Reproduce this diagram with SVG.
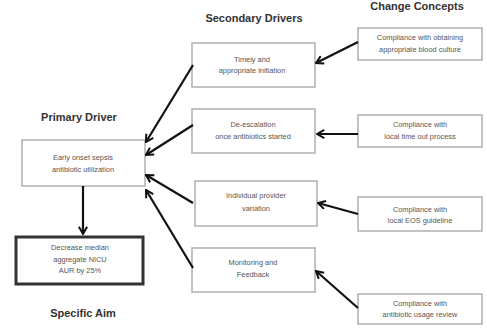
<svg xmlns="http://www.w3.org/2000/svg" width="487" height="328" viewBox="0 0 487 328">
<style>
.box{fill:#fff;stroke:#b4b4b4;stroke-width:1.6}
.aim{fill:#fff;stroke:#333;stroke-width:3}
.t{font-family:"Liberation Sans",Arial,sans-serif;font-size:7.4px;fill:#555;text-anchor:middle}
.h{font-family:"Liberation Sans",Arial,sans-serif;font-size:11px;font-weight:bold;fill:#333;text-anchor:middle}
.c{stroke:#111;stroke-width:2.2;fill:none;marker-end:url(#ah)}
</style>
<defs>
<marker id="ah" markerWidth="10" markerHeight="10" viewBox="-10 -5 11 10" refX="0" refY="0" orient="auto" markerUnits="userSpaceOnUse">
<polyline points="-8,-4.5 0,0 -8,4.5" fill="none" stroke="#111" stroke-width="2.2"/>
</marker>
</defs>
<rect width="487" height="328" fill="#fff"/>
<text class="h" x="254" y="22">Secondary Drivers</text>
<text class="h" x="417" y="10">Change Concepts</text>
<text class="h" x="79" y="121">Primary Driver</text>
<text class="h" x="83" y="317">Specific Aim</text>
<g id="primary">
<rect class="box" x="22" y="140" width="123" height="46"/>
<text class="t" x="83" y="160">Early onset sepsis</text>
<text class="t" x="83" y="172">antibiotic utilization</text>
</g>
<g id="aim">
<rect class="aim" x="16" y="237" width="127" height="47"/>
<text class="t" x="80" y="250">Decrease median</text>
<text class="t" x="80" y="262">aggregate NICU</text>
<text class="t" x="80" y="273">AUR by 25%</text>
</g>
<g id="sd1">
<rect class="box" x="192" y="43" width="123" height="44"/>
<text class="t" x="252" y="62">Timely and</text>
<text class="t" x="252" y="73">appropriate initiation</text>
</g>
<g id="sd2">
<rect class="box" x="192" y="109" width="123" height="44"/>
<text class="t" x="253" y="127">De-escalation</text>
<text class="t" x="253" y="139">once antibiotics started</text>
</g>
<g id="sd3">
<rect class="box" x="195" y="181" width="122" height="45"/>
<text class="t" x="256" y="198">Individual provider</text>
<text class="t" x="256" y="211">variation</text>
</g>
<g id="sd4">
<rect class="box" x="192" y="248" width="123" height="44"/>
<text class="t" x="253" y="265">Monitoring and</text>
<text class="t" x="253" y="277">Feedback</text>
</g>
<g id="cc1">
<rect class="box" x="358" y="28" width="124" height="32"/>
<text class="t" x="420" y="40">Compliance with obtaining</text>
<text class="t" x="420" y="52">appropriate blood culture</text>
</g>
<g id="cc2">
<rect class="box" x="358" y="115" width="124" height="32"/>
<text class="t" x="420" y="127">Compliance with</text>
<text class="t" x="420" y="139">local time out process</text>
</g>
<g id="cc3">
<rect class="box" x="358" y="197" width="124" height="34"/>
<text class="t" x="420" y="212">Compliance with</text>
<text class="t" x="420" y="223">local EOS guideline</text>
</g>
<g id="cc4">
<rect class="box" x="358" y="294" width="124" height="30"/>
<text class="t" x="420" y="306">Compliance with</text>
<text class="t" x="420" y="317">antibiotic usage review</text>
</g>
<g id="connectors">
<line class="c" x1="193" y1="65" x2="146" y2="142"/>
<line class="c" x1="193" y1="125" x2="146" y2="155"/>
<line class="c" x1="193" y1="203" x2="146" y2="175"/>
<line class="c" x1="193" y1="268" x2="146" y2="190"/>
<line class="c" x1="83" y1="186" x2="83" y2="234"/>
<line class="c" x1="358" y1="42" x2="316" y2="63"/>
<line class="c" x1="358" y1="134" x2="317" y2="134"/>
<line class="c" x1="358" y1="214" x2="318" y2="203"/>
<line class="c" x1="358" y1="308" x2="316" y2="271"/>
</g>
</svg>
